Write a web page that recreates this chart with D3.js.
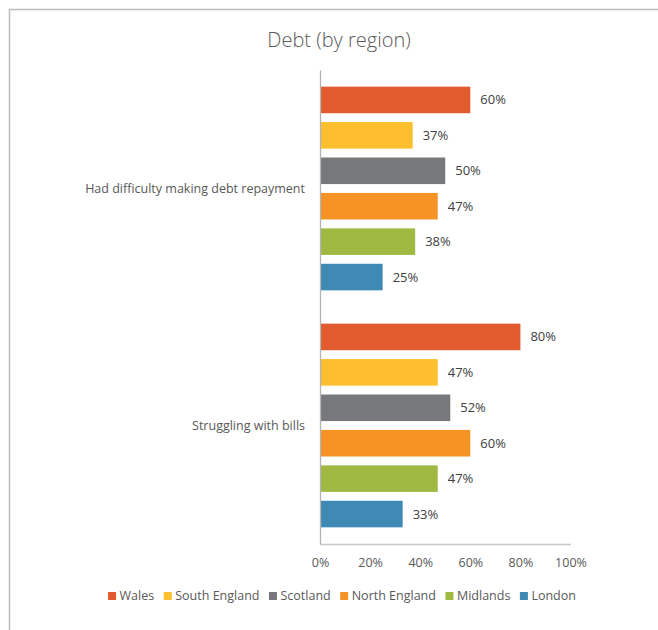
<!DOCTYPE html>
<html>
<head>
<meta charset="utf-8">
<script src="https://cdn.jsdelivr.net/npm/d3@7"></script>
<style>
  html, body { margin: 0; padding: 0; background: #fff; }
  svg { display: block; font-family: "Open Sans", "Noto Sans", sans-serif; }
</style>
</head>
<body>
<svg id="chart" width="658" height="630"></svg>
<script>
// Survey categories (top to bottom) and regions (series, top to bottom within each category)
const categories = ["Had difficulty making debt repayment", "Struggling with bills"];
const regions = ["Wales", "South England", "Scotland", "North England", "Midlands", "London"];
const regionColors = ["#E15B2F", "#FDBF2D", "#76787B", "#F59325", "#A0B943", "#3F8AB4"];

// Share of respondents, per region, in category order
const wales        = [0.60, 0.80];
const southEngland = [0.37, 0.47];
const scotland     = [0.50, 0.52];
const northEngland = [0.47, 0.60];
const midlands     = [0.38, 0.47];
const london       = [0.25, 0.33];

const xTicks = [0, 0.2, 0.4, 0.6, 0.8, 1.0];
const title = "Debt (by region)";

const seriesValues = [wales, southEngland, scotland, northEngland, midlands, london];
const rows = [];
categories.forEach((c, ci) => {
  regions.forEach((r, ri) => rows.push({ category: c, region: r, value: seriesValues[ri][ci] }));
});

const svg = d3.select("#chart");
const W = 658, H = 630;
const plot = { left: 320, right: 570.5, top: 70, bottom: 544 };

// outer frame
svg.append("rect")
  .attr("x", 9.5).attr("y", 9.5)
  .attr("width", W + 10).attr("height", H + 10)
  .attr("fill", "none").attr("stroke", "#BDBDBD").attr("stroke-width", 1.5);

// title
svg.append("text")
  .attr("x", 339).attr("y", 47)
  .attr("text-anchor", "middle")
  .attr("font-size", 20).attr("font-weight", 300)
  .attr("fill", "#595959")
  .text(title);

const x = d3.scaleLinear().domain([0, 1]).range([plot.left, plot.right]);
const y0 = d3.scaleBand().domain(categories).range([plot.top, plot.bottom]);
const y1 = d3.scaleBand().domain(regions).range([0, y0.bandwidth()])
  .paddingInner(0.25).paddingOuter(0.47);
const color = d3.scaleOrdinal().domain(regions).range(regionColors);

// bars
const g = svg.append("g");
g.selectAll("rect.bar").data(rows).join("rect")
  .attr("class", "bar")
  .attr("x", x(0))
  .attr("y", d => y0(d.category) + y1(d.region))
  .attr("width", d => x(d.value) - x(0))
  .attr("height", y1.bandwidth())
  .attr("fill", d => color(d.region));

// value labels
g.selectAll("text.val").data(rows).join("text")
  .attr("class", "val")
  .attr("x", d => x(d.value) + 10)
  .attr("y", d => y0(d.category) + y1(d.region) + y1.bandwidth() / 2)
  .attr("dy", "0.35em")
  .attr("font-size", 13)
  .attr("fill", "#404040")
  .text(d => d3.format(".0%")(d.value));

// x axis
const xAxis = d3.axisBottom(x).tickValues(xTicks).tickFormat(d3.format(".0%")).tickSize(0).tickPadding(14);
const xg = svg.append("g").attr("transform", `translate(0,${plot.bottom})`).call(xAxis);
xg.select(".domain").attr("stroke", "#C8C8C8").attr("stroke-width", 1.3);
xg.selectAll("text").attr("font-size", 12.5).attr("fill", "#595959")
  .attr("font-family", "\"Open Sans\", sans-serif");

// y axis
const yAxis = d3.axisLeft(y0).tickSize(0).tickPadding(15);
const yg = svg.append("g").attr("transform", `translate(${plot.left},0)`).call(yAxis);
yg.select(".domain").attr("stroke", "#B4B4B4").attr("stroke-width", 1.3);
yg.selectAll("text").attr("font-size", 12.5).attr("fill", "#595959")
  .attr("font-family", "\"Open Sans\", sans-serif");

// legend
const legend = svg.append("g");
const items = legend.selectAll("g").data(regions).join("g");
items.append("rect").attr("width", 8).attr("height", 8).attr("y", -4)
  .attr("fill", d => color(d));
items.append("text").attr("x", 11.5).attr("dy", "0.35em")
  .attr("font-size", 12.5).attr("fill", "#595959").text(d => d);
let cx = 0;
items.each(function() {
  const w = this.getBBox().width;
  d3.select(this).attr("transform", `translate(${cx},0)`);
  cx += w + 9.5;
});
const totalW = cx - 9.5;
legend.attr("transform", `translate(${342 - totalW / 2},596)`);
</script>
</body>
</html>
